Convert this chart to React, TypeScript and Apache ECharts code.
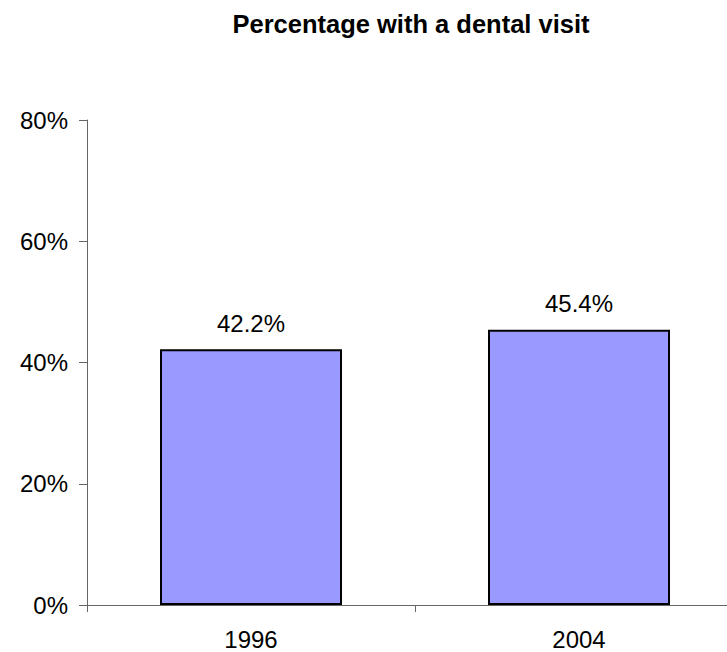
import React, { useEffect, useRef } from "react";
import * as echarts from "echarts";

const titleText = "Percentage with a dental visit";
const categories = ["1996", "2004"];
const values = [42.2, 45.4];
const yTicks = [0, 20, 40, 60, 80];

export default function App() {
  const ref = useRef<HTMLDivElement>(null);
  useEffect(() => {
    if (!ref.current) return;
    const chart = echarts.init(ref.current, null, { renderer: "svg" });
    const font = "'Liberation Sans', Arial, sans-serif";
    chart.setOption({
      animation: false,
      backgroundColor: "#ffffff",
      title: {
        text: titleText,
        left: 406,
        top: 6,
        textAlign: "center",
        textStyle: { fontFamily: font, fontSize: 25.5, fontWeight: "bold", color: "#000" },
      },
      grid: { left: 87, top: 120, right: 0, bottom: 47 },
      xAxis: {
        type: "category",
        data: categories,
        axisLine: { lineStyle: { color: "#666", width: 1 } },
        axisTick: { show: true, length: 7, lineStyle: { color: "#666" } },
        axisLabel: { margin: 22, fontFamily: font, fontSize: 24, color: "#000" },
      },
      yAxis: {
        type: "value",
        min: yTicks[0],
        max: yTicks[yTicks.length - 1],
        interval: 20,
        axisLine: { show: true, lineStyle: { color: "#666", width: 1 } },
        axisTick: { show: true, length: 8, lineStyle: { color: "#666" } },
        splitLine: { show: false },
        axisLabel: {
          margin: 19,
          fontFamily: font,
          fontSize: 24,
          color: "#000",
          formatter: (v: number) => v + "%",
        },
      },
      series: [
        {
          type: "bar",
          data: values,
          barWidth: 182,
          itemStyle: { color: "#9999ff", borderColor: "#000", borderWidth: 2 },
          label: {
            show: true,
            position: "top",
            distance: 14,
            fontFamily: font,
            fontSize: 24,
            color: "#000",
            formatter: (p: any) => p.value.toFixed(1) + "%",
          },
        },
      ],
    });
    return () => chart.dispose();
  }, []);
  return (
    <div style={{ position: "fixed", left: 0, top: 0, width: 727, height: 652, overflow: "hidden" }}>
      <div ref={ref} style={{ width: 743, height: 652 }} />
    </div>
  );
}
